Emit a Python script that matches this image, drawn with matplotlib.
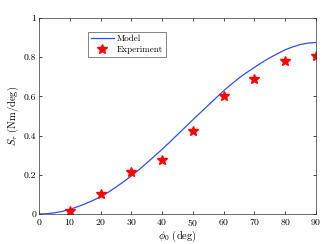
import matplotlib
matplotlib.use("Agg")
import matplotlib.pyplot as plt

plt.rcParams['font.family'] = 'serif'
plt.rcParams['font.serif'] = ['cmr10', 'DejaVu Serif']
plt.rcParams['mathtext.fontset'] = 'cm'
plt.rcParams['axes.formatter.use_mathtext'] = True

model_phi = [0, 2.5, 5, 7.5, 10, 12.5, 15, 17.5, 20, 22.5, 25, 27.5, 30, 32.5, 35, 37.5,
             40, 42.5, 45, 47.5, 50, 52.5, 55, 57.5, 60, 62.5, 65, 67.5, 70, 72.5, 75,
             77.5, 80, 82.5, 85, 87.5, 90]
model_S = [0.0, 0.0015, 0.006, 0.013, 0.024, 0.037, 0.052, 0.069, 0.088, 0.111, 0.137,
           0.165, 0.194, 0.226, 0.26, 0.295, 0.33, 0.367, 0.405, 0.443, 0.481, 0.518,
           0.555, 0.592, 0.629, 0.662, 0.694, 0.722, 0.748, 0.774, 0.797, 0.818, 0.838,
           0.853, 0.865, 0.872, 0.875]
exp_phi = [10, 20, 30, 40, 50, 60, 70, 80, 90]
exp_S = [0.015, 0.103, 0.212, 0.275, 0.422, 0.6, 0.687, 0.783, 0.805]
xticks = [0, 10, 20, 30, 40, 50, 60, 70, 80, 90]
yticks = [0, 0.2, 0.4, 0.6, 0.8, 1]

fig = plt.figure(figsize=(3.27, 2.44), dpi=100)
ax = fig.add_axes([39/327, 1 - 214/244, (316-39)/327, (214-18)/244])
ax.plot(model_phi, model_S, color='#2f4ef5', lw=0.9, label='Model')
ax.plot(exp_phi, exp_S, ls='none', marker='*', color='red', ms=7, label='Experiment')
ax.set_xlim(0, 90)
ax.set_ylim(0, 1)
ax.set_xticks(xticks)
ax.set_yticks(yticks)
ax.set_yticklabels(['0', '0.2', '0.4', '0.6', '0.8', '1'])
ax.tick_params(direction='in', top=True, right=True, labelsize=7, length=2.5, width=0.5, pad=2)
for s in ax.spines.values():
    s.set_linewidth(0.5)
    s.set_color('#333333')
ax.set_xlabel(r'$\phi_0$ (deg)', fontsize=7.5, labelpad=1)
ax.set_ylabel(r'$S_\tau$ (Nm/deg)', fontsize=7.5, labelpad=2)
leg = ax.legend(loc='upper left', bbox_to_anchor=(0.177, 0.93), fontsize=6.5, fancybox=False,
                edgecolor='#555555', framealpha=1, handlelength=2.6, borderpad=0.3,
                labelspacing=0.3, handletextpad=0.3, borderaxespad=0)
leg.get_frame().set_linewidth(0.5)
fig.savefig('out.png', dpi=100)
